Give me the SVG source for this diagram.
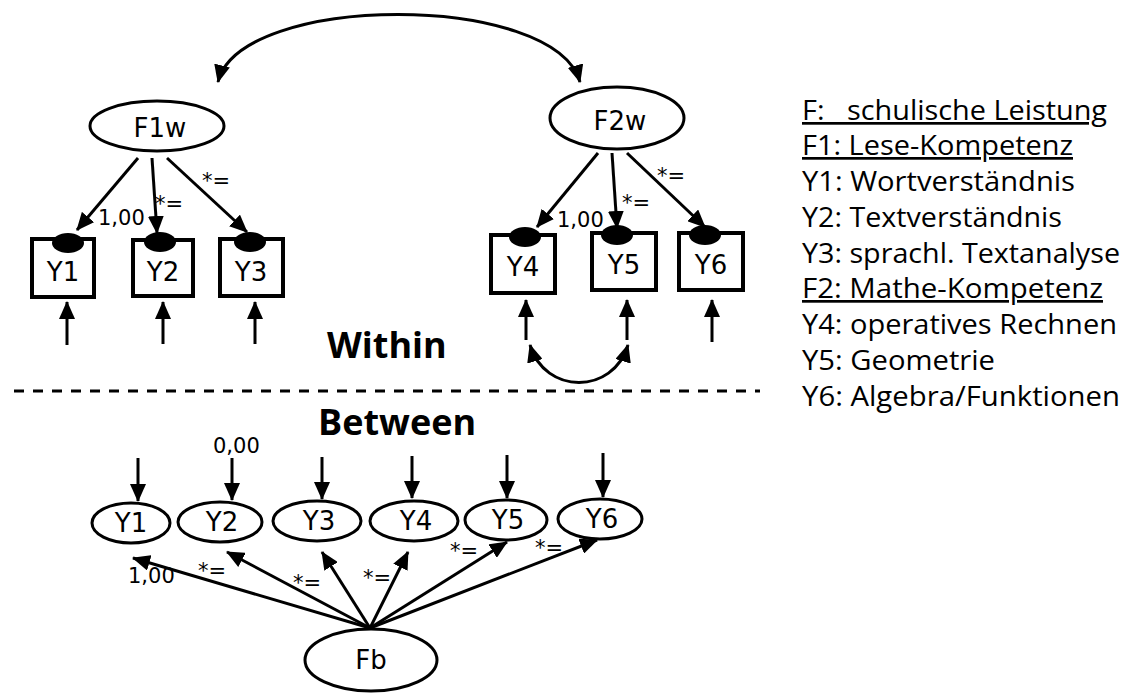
<svg xmlns="http://www.w3.org/2000/svg" width="1128" height="693" viewBox="0 0 1128 693">
<style>
.lbl{font-family:"DejaVu Sans",Verdana,sans-serif;fill:#000}
.node{font-size:26px;text-anchor:middle}
.coef{font-size:21px}
.box{fill:#fff;stroke:#000;stroke-width:4}
.ell{fill:#fff;stroke:#000;stroke-width:3}
.blob{fill:#000}
.edge{fill:none;stroke:#000;stroke-width:3}
.title{font-family:"Open Sans","DejaVu Sans",sans-serif;font-weight:bold;font-size:36px;fill:#000}
.leg{font-family:"Open Sans","DejaVu Sans",sans-serif;font-size:27px;fill:#000}
</style>
<defs>
<marker id="ah" markerUnits="userSpaceOnUse" markerWidth="18" markerHeight="16" viewBox="0 0 18 16" refX="17" refY="8" orient="auto-start-reverse">
<path d="M0,0 L18,8 L0,16 z" fill="#000"/>
</marker>
</defs>
<rect width="1128" height="693" fill="#fff"/>

<g id="connectors">
<path class="edge" d="M218,82 C240,-8 555,-8 580,82" marker-start="url(#ah)" marker-end="url(#ah)"/>
<line class="edge" x1="138" y1="158" x2="77" y2="230" marker-end="url(#ah)"/>
<line class="edge" x1="152" y1="158" x2="157" y2="233" marker-end="url(#ah)"/>
<line class="edge" x1="167" y1="158" x2="247" y2="232" marker-end="url(#ah)"/>
<line class="edge" x1="598" y1="153" x2="537" y2="227" marker-end="url(#ah)"/>
<line class="edge" x1="612" y1="153" x2="617" y2="228" marker-end="url(#ah)"/>
<line class="edge" x1="627" y1="153" x2="705" y2="227" marker-end="url(#ah)"/>
<line class="edge" x1="67" y1="345" x2="67" y2="302" marker-end="url(#ah)"/>
<line class="edge" x1="163" y1="344" x2="163" y2="302" marker-end="url(#ah)"/>
<line class="edge" x1="255" y1="344" x2="255" y2="302" marker-end="url(#ah)"/>
<line class="edge" x1="526" y1="340" x2="526" y2="300" marker-end="url(#ah)"/>
<line class="edge" x1="627" y1="340" x2="627" y2="300" marker-end="url(#ah)"/>
<line class="edge" x1="712" y1="342" x2="712" y2="300" marker-end="url(#ah)"/>
<path class="edge" d="M530,345 C545,395 613,395 628,345" marker-start="url(#ah)" marker-end="url(#ah)"/>
<line x1="14" y1="391" x2="760" y2="391" stroke="#000" stroke-width="3" stroke-dasharray="10,9"/>
<line class="edge" x1="138" y1="458" x2="138" y2="501" marker-end="url(#ah)"/>
<line class="edge" x1="232" y1="458" x2="232" y2="500" marker-end="url(#ah)"/>
<line class="edge" x1="322" y1="457" x2="322" y2="499" marker-end="url(#ah)"/>
<line class="edge" x1="412" y1="456" x2="412" y2="498" marker-end="url(#ah)"/>
<line class="edge" x1="507" y1="455" x2="507" y2="498" marker-end="url(#ah)"/>
<line class="edge" x1="603" y1="453" x2="603" y2="497" marker-end="url(#ah)"/>
<line class="edge" x1="370" y1="628" x2="133" y2="558" marker-end="url(#ah)"/>
<line class="edge" x1="370" y1="628" x2="227" y2="552" marker-end="url(#ah)"/>
<line class="edge" x1="370" y1="628" x2="322" y2="552" marker-end="url(#ah)"/>
<line class="edge" x1="370" y1="628" x2="408" y2="552" marker-end="url(#ah)"/>
<line class="edge" x1="370" y1="628" x2="507" y2="542" marker-end="url(#ah)"/>
<line class="edge" x1="370" y1="628" x2="597" y2="540" marker-end="url(#ah)"/>
</g>

<g id="coefficients" class="lbl coef">
<text x="98" y="225">1,00</text>
<text x="155" y="211">*=</text>
<text x="202" y="188">*=</text>
<text x="557" y="227">1,00</text>
<text x="622" y="210">*=</text>
<text x="657" y="183">*=</text>
<text x="213" y="453">0,00</text>
<text x="128" y="583">1,00</text>
<text x="198" y="578">*=</text>
<text x="293" y="590">*=</text>
<text x="363" y="585">*=</text>
<text x="450" y="558">*=</text>
<text x="535" y="555">*=</text>
</g>

<g id="F1w"><ellipse class="ell" cx="157" cy="126" rx="67" ry="25"/><text class="lbl node" x="160" y="137">F1w</text></g>
<g id="F2w"><ellipse class="ell" cx="617" cy="118" rx="67" ry="31"/><text class="lbl node" x="620" y="130">F2w</text></g>

<g id="wY1"><rect class="box" x="32" y="239" width="62" height="58"/><ellipse class="blob" cx="68" cy="243" rx="16" ry="10"/><text class="lbl node" x="63" y="281">Y1</text></g>
<g id="wY2"><rect class="box" x="133" y="240" width="60" height="56"/><ellipse class="blob" cx="160" cy="242" rx="16" ry="10"/><text class="lbl node" x="163" y="281">Y2</text></g>
<g id="wY3"><rect class="box" x="220" y="239" width="63" height="57"/><ellipse class="blob" cx="250" cy="242" rx="16" ry="10"/><text class="lbl node" x="251" y="281">Y3</text></g>
<g id="wY4"><rect class="box" x="491" y="235" width="64" height="58"/><ellipse class="blob" cx="525" cy="237" rx="16" ry="10"/><text class="lbl node" x="523" y="276">Y4</text></g>
<g id="wY5"><rect class="box" x="592" y="233" width="64" height="57"/><ellipse class="blob" cx="617" cy="235" rx="16" ry="10"/><text class="lbl node" x="624" y="274">Y5</text></g>
<g id="wY6"><rect class="box" x="679" y="233" width="64" height="57"/><ellipse class="blob" cx="705" cy="235" rx="16" ry="10"/><text class="lbl node" x="711" y="274">Y6</text></g>

<text class="title" x="327" y="358">Within</text>
<text class="title" x="318" y="435">Between</text>

<g id="bY1"><ellipse class="ell" cx="131" cy="523" rx="39" ry="20"/><text class="lbl node" x="131" y="532">Y1</text></g>
<g id="bY2"><ellipse class="ell" cx="220" cy="522" rx="42" ry="20"/><text class="lbl node" x="222" y="531">Y2</text></g>
<g id="bY3"><ellipse class="ell" cx="317" cy="521" rx="44" ry="20"/><text class="lbl node" x="319" y="530">Y3</text></g>
<g id="bY4"><ellipse class="ell" cx="414" cy="521" rx="44" ry="20"/><text class="lbl node" x="416" y="530">Y4</text></g>
<g id="bY5"><ellipse class="ell" cx="506" cy="520" rx="41" ry="20"/><text class="lbl node" x="508" y="529">Y5</text></g>
<g id="bY6"><ellipse class="ell" cx="600" cy="519" rx="42" ry="20"/><text class="lbl node" x="602" y="528">Y6</text></g>
<g id="Fb"><ellipse class="ell" cx="371" cy="660" rx="66" ry="31"/><text class="lbl node" x="371" y="669">Fb</text></g>

<g id="legend" class="leg">
<text x="802" y="120" text-decoration="underline" xml:space="preserve" textLength="305" lengthAdjust="spacingAndGlyphs">F:   schulische Leistung</text>
<text x="802" y="155" text-decoration="underline" textLength="271" lengthAdjust="spacingAndGlyphs">F1: Lese-Kompetenz</text>
<text x="802" y="191" textLength="273" lengthAdjust="spacingAndGlyphs">Y1: Wortverständnis</text>
<text x="802" y="227" textLength="260" lengthAdjust="spacingAndGlyphs">Y2: Textverständnis</text>
<text x="802" y="263" textLength="318" lengthAdjust="spacingAndGlyphs">Y3: sprachl. Textanalyse</text>
<text x="802" y="298" text-decoration="underline" textLength="301" lengthAdjust="spacingAndGlyphs">F2: Mathe-Kompetenz</text>
<text x="802" y="334" textLength="315" lengthAdjust="spacingAndGlyphs">Y4: operatives Rechnen</text>
<text x="802" y="370" textLength="193" lengthAdjust="spacingAndGlyphs">Y5: Geometrie</text>
<text x="802" y="406" textLength="318" lengthAdjust="spacingAndGlyphs">Y6: Algebra/Funktionen</text>
</g>
</svg>
